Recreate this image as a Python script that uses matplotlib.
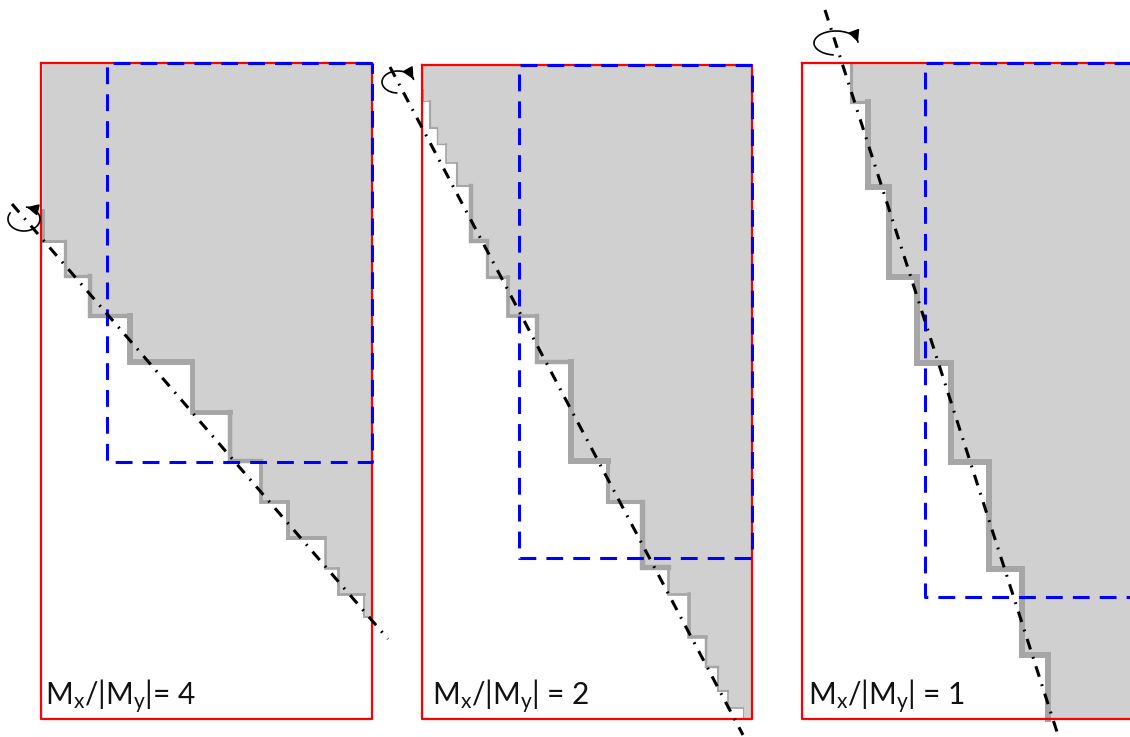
import numpy as np
import matplotlib.pyplot as plt

plt.rcParams['font.family'] = ['Lato', 'DejaVu Sans']
plt.rcParams['mathtext.fontset'] = 'custom'
plt.rcParams['mathtext.rm'] = 'Lato'
plt.rcParams['mathtext.it'] = 'Lato:italic'

# staircase corners (image pixels), one list of x and one of y per panel
steps_x_4 = [43, 65, 90, 130, 192, 230, 261, 288, 325, 338, 364]
steps_y_4 = [210, 241, 276, 316, 362, 412, 461, 502, 538, 568, 594, 617]

steps_x_2 = [423, 430, 437, 446, 457, 471, 487, 508, 537, 571, 608, 642, 668, 689, 706, 718, 728, 743]
steps_y_2 = [89, 101, 128, 144, 163, 186, 241, 277, 316, 362, 461, 502, 567, 594, 637, 667, 691, 708, 719]

steps_x_1 = [851, 868, 889, 917, 951, 989, 1022, 1048]
steps_y_1 = [64, 102, 187, 277, 363, 462, 569, 655, 719]

labels = ["M$_\\mathrm{x}$/|M$_\\mathrm{y}$|= 4",
          "M$_\\mathrm{x}$/|M$_\\mathrm{y}$| = 2",
          "M$_\\mathrm{x}$/|M$_\\mathrm{y}$| = 1"]

panels = [
    dict(sx=steps_x_4, sy=steps_y_4, red=(41, 63, 372, 719), blue=(107, 63, 372, 462),
         axis=((12, 204), (388, 639)), rot=(24, 219, 16, 12, 150, 440), text=(45, 705)),
    dict(sx=steps_x_2, sy=steps_y_2, red=(422, 65, 752, 719), blue=(519, 65, 752, 558),
         axis=((390, 67), (743, 735)), rot=(398, 82, 16, 11, 265, 15), text=(432, 705)),
    dict(sx=steps_x_1, sy=steps_y_1, red=(802, 63, 1150, 719), blue=(925, 63, 1150, 597),
         axis=((825, 10), (1058, 735)), rot=(836, 43, 22, 12, 262, 5), text=(808, 705)),
]

fig = plt.figure(figsize=(11.3, 7.37), dpi=100)
ax = fig.add_axes([0, 0, 1, 1])
ax.set_xlim(0, 1130)
ax.set_ylim(737, 0)
ax.axis('off')

for p, lab in zip(panels, labels):
    sx, sy = p['sx'], p['sy']
    left, top, right, bottom = p['red']

    # stair outline
    px, py = [sx[0]], [sy[0]]
    for i in range(len(sx)):
        px += [sx[i], sx[i + 1] if i + 1 < len(sx) else right]
        py += [sy[i + 1], sy[i + 1]]
    fx = [sx[0]] + px + [right, right]
    fy = [top] + py + [sy[-1], top]
    ax.fill(fx, fy, color='#d0d0d0', lw=0, zorder=1)

    for i in range(len(sx)):
        last = i + 1 == len(sx)
        nx = right if last else sx[i + 1]
        if last and sy[-1] >= bottom - 2:
            nx = sx[i]
        d = np.hypot((right if last else sx[i + 1]) - sx[i], sy[i + 1] - sy[i])
        lw = np.clip(d / 18, 0.8, 4.3)
        ax.plot([sx[i], sx[i], nx], [sy[i], sy[i + 1], sy[i + 1]], color='#a6a6a6',
                lw=lw, solid_joinstyle='miter', solid_capstyle='projecting', zorder=2)

    ax.plot([left, left, right, right, left], [top, bottom, bottom, top, top],
            color='#ff0000', lw=1.6, zorder=3)

    bl, bt, br, bb = p['blue']
    ax.plot([br, bl, bl, br, br], [bt, bt, bb, bb, bt], color='#0000ff', lw=2.2,
            dashes=(5.5, 3.3), zorder=4)

    (x0, y0), (x1, y1) = p['axis']
    ax.plot([x0, x1], [y0, y1], color='black', lw=2.2, dashes=(3.6, 2.6, 0.6, 2.6),
            dash_capstyle='butt', zorder=5)

    cx, cy, a, b, t0, t1 = p['rot']
    t = np.radians(np.linspace(t0, t1, 60))
    ex = cx + a * np.cos(t)
    ey = cy - b * np.sin(t)
    ax.plot(ex, ey, color='black', lw=1.2, zorder=6)
    ax.annotate('', xy=(ex[-1], ey[-1]), xytext=(ex[-4], ey[-4]),
                arrowprops=dict(arrowstyle='-|>', color='black', lw=1.2,
                                mutation_scale=17, shrinkA=0, shrinkB=0), zorder=6)

    ax.text(p['text'][0], p['text'][1], lab, fontsize=21.5, va='baseline', ha='left',
            color='#111111', zorder=7)

fig.savefig('out.png', dpi=100)
